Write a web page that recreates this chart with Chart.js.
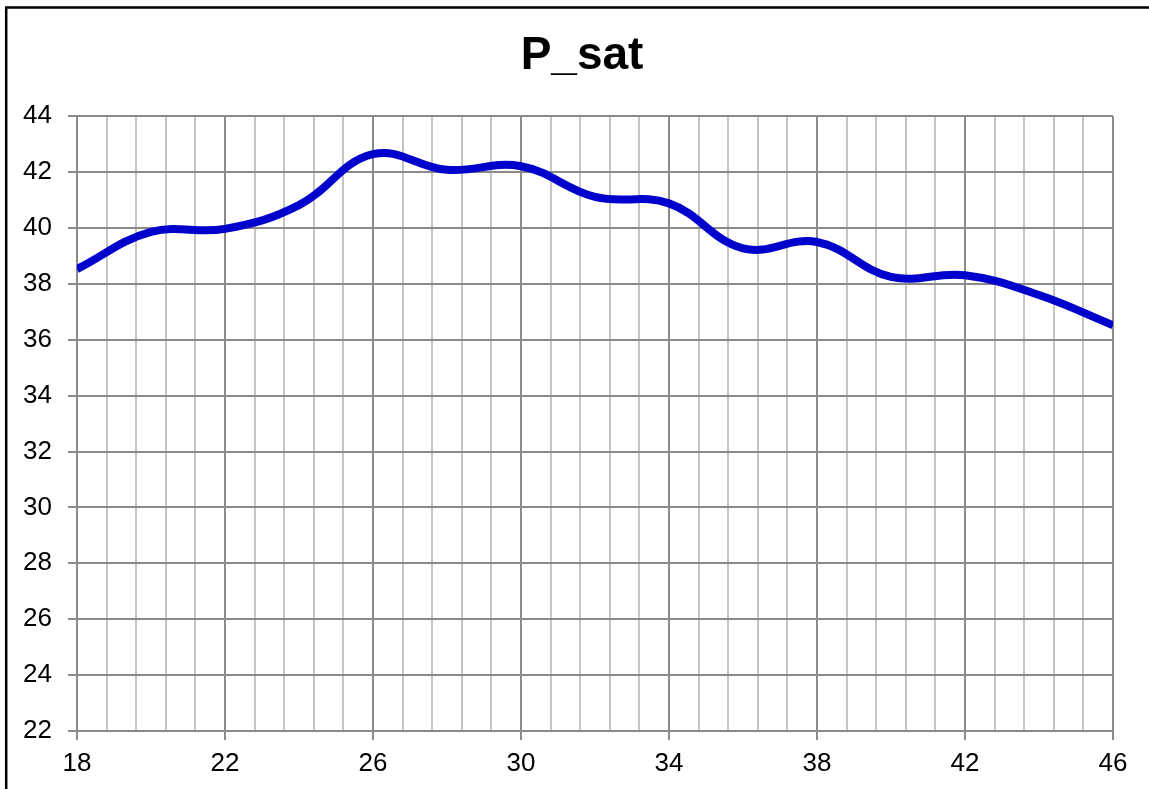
<!DOCTYPE html>
<html lang="en">
<head>
    <meta charset="UTF-8">
    <title>P_sat</title>
    <style>
        body { margin: 0; background: #fff; overflow: hidden; }
    </style>
</head>
<body>
    <canvas id="myChart" width="1149" height="789"></canvas>
    <script src="https://cdn.jsdelivr.net/npm/chart.js"></script>
    <script>
        // values
        const xValues = [18, 20, 22, 24, 26, 28, 30, 32, 34, 36, 38, 40, 42, 44, 46];
        const pSat = [38.53, 39.86, 39.97, 40.82, 42.64, 42.08, 42.21, 41.11, 40.88, 39.27, 39.5, 38.25, 38.31, 37.6, 36.52];
        const yTicks = [22, 24, 26, 28, 30, 32, 34, 36, 38, 40, 42, 44];
        const xLabels = [18, 22, 26, 30, 34, 38, 42, 46];

        const points = [];
        for (let i = 0; i < xValues.length; i++) {
            points.push({ x: xValues[i], y: pSat[i] });
        }

        function isMajor(v) {
            return xLabels.some(l => Math.abs(l - v) < 1e-6);
        }

        // outer frame of the chart, runs off the right and bottom edge
        const framePlugin = {
            id: 'frame',
            beforeDraw(chart) {
                const c = chart.ctx;
                c.save();
                c.fillStyle = '#fff';
                c.fillRect(0, 0, chart.width, chart.height);
                c.strokeStyle = '#000';
                c.lineWidth = 2.5;
                c.strokeRect(6.2, 7.5, 2000, 2000);
                c.restore();
            }
        };

        const ctx = document.getElementById('myChart');
        new Chart(ctx, {
            type: 'line',
            data: {
                datasets: [{
                    label: 'P_sat',
                    data: points,
                    borderColor: '#0000CC',
                    borderWidth: 8,
                    tension: 0.4,
                    pointRadius: 0,
                    fill: false
                }]
            },
            options: {
                responsive: false,
                devicePixelRatio: 1,
                animation: false,
                layout: { padding: { left: 15, right: 0, top: 0, bottom: 0 } },
                scales: {
                    x: {
                        type: 'linear',
                        min: 18,
                        max: 46,
                        afterFit(scale) {
                            scale.height = 58;
                            scale.paddingRight = 36;
                        },
                        ticks: {
                            stepSize: 0.8,
                            autoSkip: false,
                            maxRotation: 0,
                            padding: 8,
                            color: '#000',
                            font: { family: '"Liberation Sans", Arial', size: 26 },
                            callback: (v) => isMajor(v) ? String(Math.round(v)) : ''
                        },
                        grid: {
                            color: (c) => isMajor(c.tick.value) ? '#8a8a8a' : '#c4c4c4',
                            tickColor: (c) => isMajor(c.tick.value) ? '#8a8a8a' : 'rgba(0,0,0,0)',
                            lineWidth: 2,
                            tickLength: 9
                        },
                        border: { color: '#8a8a8a', width: 2 }
                    },
                    y: {
                        min: 22,
                        max: 44,
                        afterFit(scale) {
                            scale.width = 62;
                        },
                        afterBuildTicks(scale) {
                            scale.ticks = yTicks.map(v => ({ value: v }));
                        },
                        ticks: {
                            padding: 16,
                            color: '#000',
                            font: { family: '"Liberation Sans", Arial', size: 26 }
                        },
                        grid: {
                            color: '#8a8a8a',
                            lineWidth: 2,
                            tickLength: 9
                        },
                        border: { color: '#8a8a8a', width: 2 }
                    }
                },
                plugins: {
                    legend: { display: false },
                    tooltip: { enabled: false },
                    title: {
                        display: true,
                        text: 'P_sat',
                        color: '#000',
                        font: { family: '"Liberation Sans", Arial', size: 46, weight: 'bold' },
                        padding: { top: 29, bottom: 32 }
                    }
                }
            },
            plugins: [framePlugin]
        });
    </script>
</body>
</html>
